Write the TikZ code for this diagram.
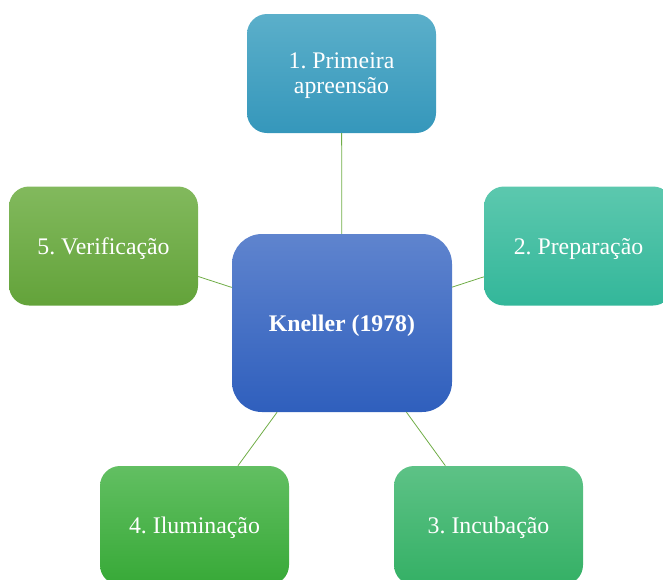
\documentclass[tikz,border=0pt]{standalone}
\usepackage{fontspec}
\setmainfont{Liberation Serif}
\frenchspacing
\begin{document}
\begin{tikzpicture}[x=1pt,y=-1pt,
  box/.style={rounded corners=20pt, minimum width=189pt, minimum height=119pt,
    inner sep=0pt, text=white, align=center, text depth=0pt,
    font=\fontsize{23.8}{25}\selectfont},
  link/.style={draw=linkgreen, line width=0.8pt}]
\definecolor{linkgreen}{HTML}{70AD47}
\definecolor{aT}{HTML}{5BAFCA}\definecolor{aB}{HTML}{3597BB}
\definecolor{bT}{HTML}{5CC8AE}\definecolor{bB}{HTML}{33B79A}
\definecolor{cT}{HTML}{5DC286}\definecolor{cB}{HTML}{34B065}
\definecolor{dT}{HTML}{62BF62}\definecolor{dB}{HTML}{37A937}
\definecolor{eT}{HTML}{82B95D}\definecolor{eB}{HTML}{63A33A}
\definecolor{mT}{HTML}{5F84CE}\definecolor{mB}{HTML}{2F5FBD}
\useasboundingbox (0,0) rectangle (663,579);
\clip (0,0) rectangle (663,579);
\node[box, top color=mT, bottom color=mB, minimum width=220pt, minimum height=178pt,
  rounded corners=30pt, font=\fontsize{23.8}{25}\selectfont\bfseries] (m) at (342,323) {Kneller (1978)};
\node[box, top color=aT, bottom color=aB] (a) at (341.5,73.5) {1. Primeira\\apreensão};
\node[box, top color=bT, bottom color=bB] (b) at (578.5,246) {2. Preparação};
\node[box, top color=cT, bottom color=cB] (c) at (488.5,525.5) {3. Incubação};
\node[box, top color=dT, bottom color=dB] (d) at (194.5,525.5) {4. Iluminação};
\node[box, top color=eT, bottom color=eB] (e) at (103.5,246) {5. Verificação};
\draw[link] (m) -- (a);
\draw[link] (m) -- (b);
\draw[link] (m) -- (c);
\draw[link] (m) -- (d);
\draw[link] (m) -- (e);
\end{tikzpicture}
\end{document}
